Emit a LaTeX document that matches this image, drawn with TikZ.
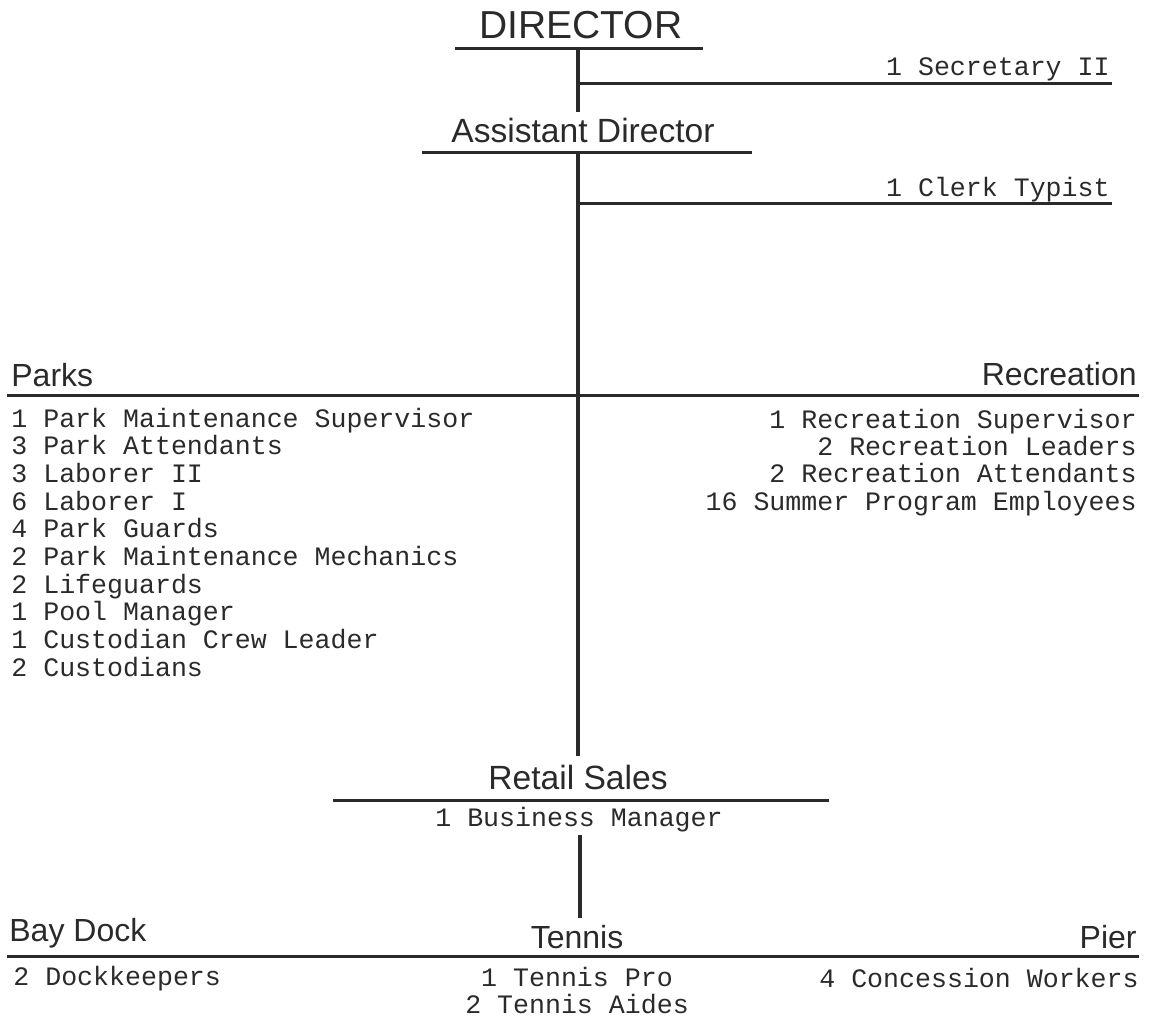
\documentclass[tikz,border=0pt]{standalone}
\usepackage{fontspec}
\newfontfamily\headfont{Liberation Sans}
\newfontfamily\typefont{Liberation Mono}
\definecolor{ink}{HTML}{2A2A2A}
\begin{document}
\begin{tikzpicture}[x=0.5pt,y=-0.5pt,
    head/.style={inner sep=0pt, text=ink, font=\headfont\fontsize{16}{18}\selectfont},
    bighead/.style={head, font=\headfont\fontsize{16.8}{19}\selectfont},
    item/.style={inner sep=0pt, text=ink, font=\typefont\fontsize{13.3}{14}\selectfont},
    rule/.style={draw=ink, line width=1.5pt},
    link/.style={draw=ink, line width=2pt}]
  \useasboundingbox (0,0) rectangle (1160,1018);
  % director and assistant
  \node[head, font=\headfont\fontsize{19.5}{22}\selectfont, anchor=base] (dir) at (581,38) {DIRECTOR};
  \coordinate (dirL) at (455,48); \coordinate (dirR) at (703,48);
  \node[bighead, anchor=base] (asst) at (583,142) {Assistant Director};
  \coordinate (asstL) at (422,152); \coordinate (asstR) at (752,152);
  \draw[rule] (dirL) -- (dirR); \draw[rule] (asstL) -- (asstR);
  \coordinate (d0) at (578,48); \coordinate (d1) at (578,112);
  \draw[link] (d0) -- (d1);
  % staff lines
  \node[item, anchor=base east] (sec) at (1110,75) {1 Secretary II};
  \coordinate (secL) at (578,83); \coordinate (secR) at (1112,83);
  \draw[rule] (secL) -- (secR);
  \node[item, anchor=base east] (clerk) at (1110,196) {1 Clerk Typist};
  \coordinate (clerkL) at (578,203); \coordinate (clerkR) at (1112,203);
  \draw[rule] (clerkL) -- (clerkR);
  % parks and recreation
  \node[head, anchor=base west] (parks) at (11,386) {Parks};
  \node[head, anchor=base east] (rec) at (1137,385) {Recreation};
  \coordinate (divL) at (7,395); \coordinate (divR) at (1139,395);
  \draw[rule] (divL) -- (divR);
  \foreach \t [count=\i from 0] in {1 Park Maintenance Supervisor, 3 Park Attendants,
      3 Laborer II, 6 Laborer I, 4 Park Guards, 2 Park Maintenance Mechanics,
      2 Lifeguards, 1 Pool Manager, 1 Custodian Crew Leader, 2 Custodians}
    \node[item, anchor=base west] (park\i) at (11,{427+27.7*\i}) {\t};
  \foreach \t [count=\i from 0] in {1 Recreation Supervisor, 2 Recreation Leaders,
      2 Recreation Attendants, 16 Summer Program Employees}
    \node[item, anchor=base east] (rec\i) at (1137,{428+27.4*\i}) {\t};
  % retail sales
  \coordinate (a0) at (578,152); \coordinate (a1) at (578,756);
  \draw[link] (a0) -- (a1);
  \node[bighead, anchor=base] (retail) at (578,789) {Retail Sales};
  \coordinate (retL) at (333,800); \coordinate (retR) at (829,800);
  \draw[rule] (retL) -- (retR);
  \node[item, anchor=base] (bus) at (579,826) {1 Business Manager};
  \coordinate (r0) at (580,835); \coordinate (r1) at (580,918);
  \draw[link] (r0) -- (r1);
  % bay dock, tennis, pier
  \node[head, anchor=base west] (bay) at (9,941) {Bay Dock};
  \node[head, anchor=base] (tennis) at (577,948) {Tennis};
  \node[head, anchor=base east] (pier) at (1137,948) {Pier};
  \coordinate (botL) at (7,956); \coordinate (botR) at (1139,956);
  \draw[rule] (botL) -- (botR);
  \node[item, anchor=base west] (dock) at (13,985) {2 Dockkeepers};
  \node[item, anchor=base] (pro) at (577,986) {1 Tennis Pro};
  \node[item, anchor=base] (aides) at (577,1013) {2 Tennis Aides};
  \node[item, anchor=base east] (conc) at (1139,987) {4 Concession Workers};
\end{tikzpicture}
\end{document}
